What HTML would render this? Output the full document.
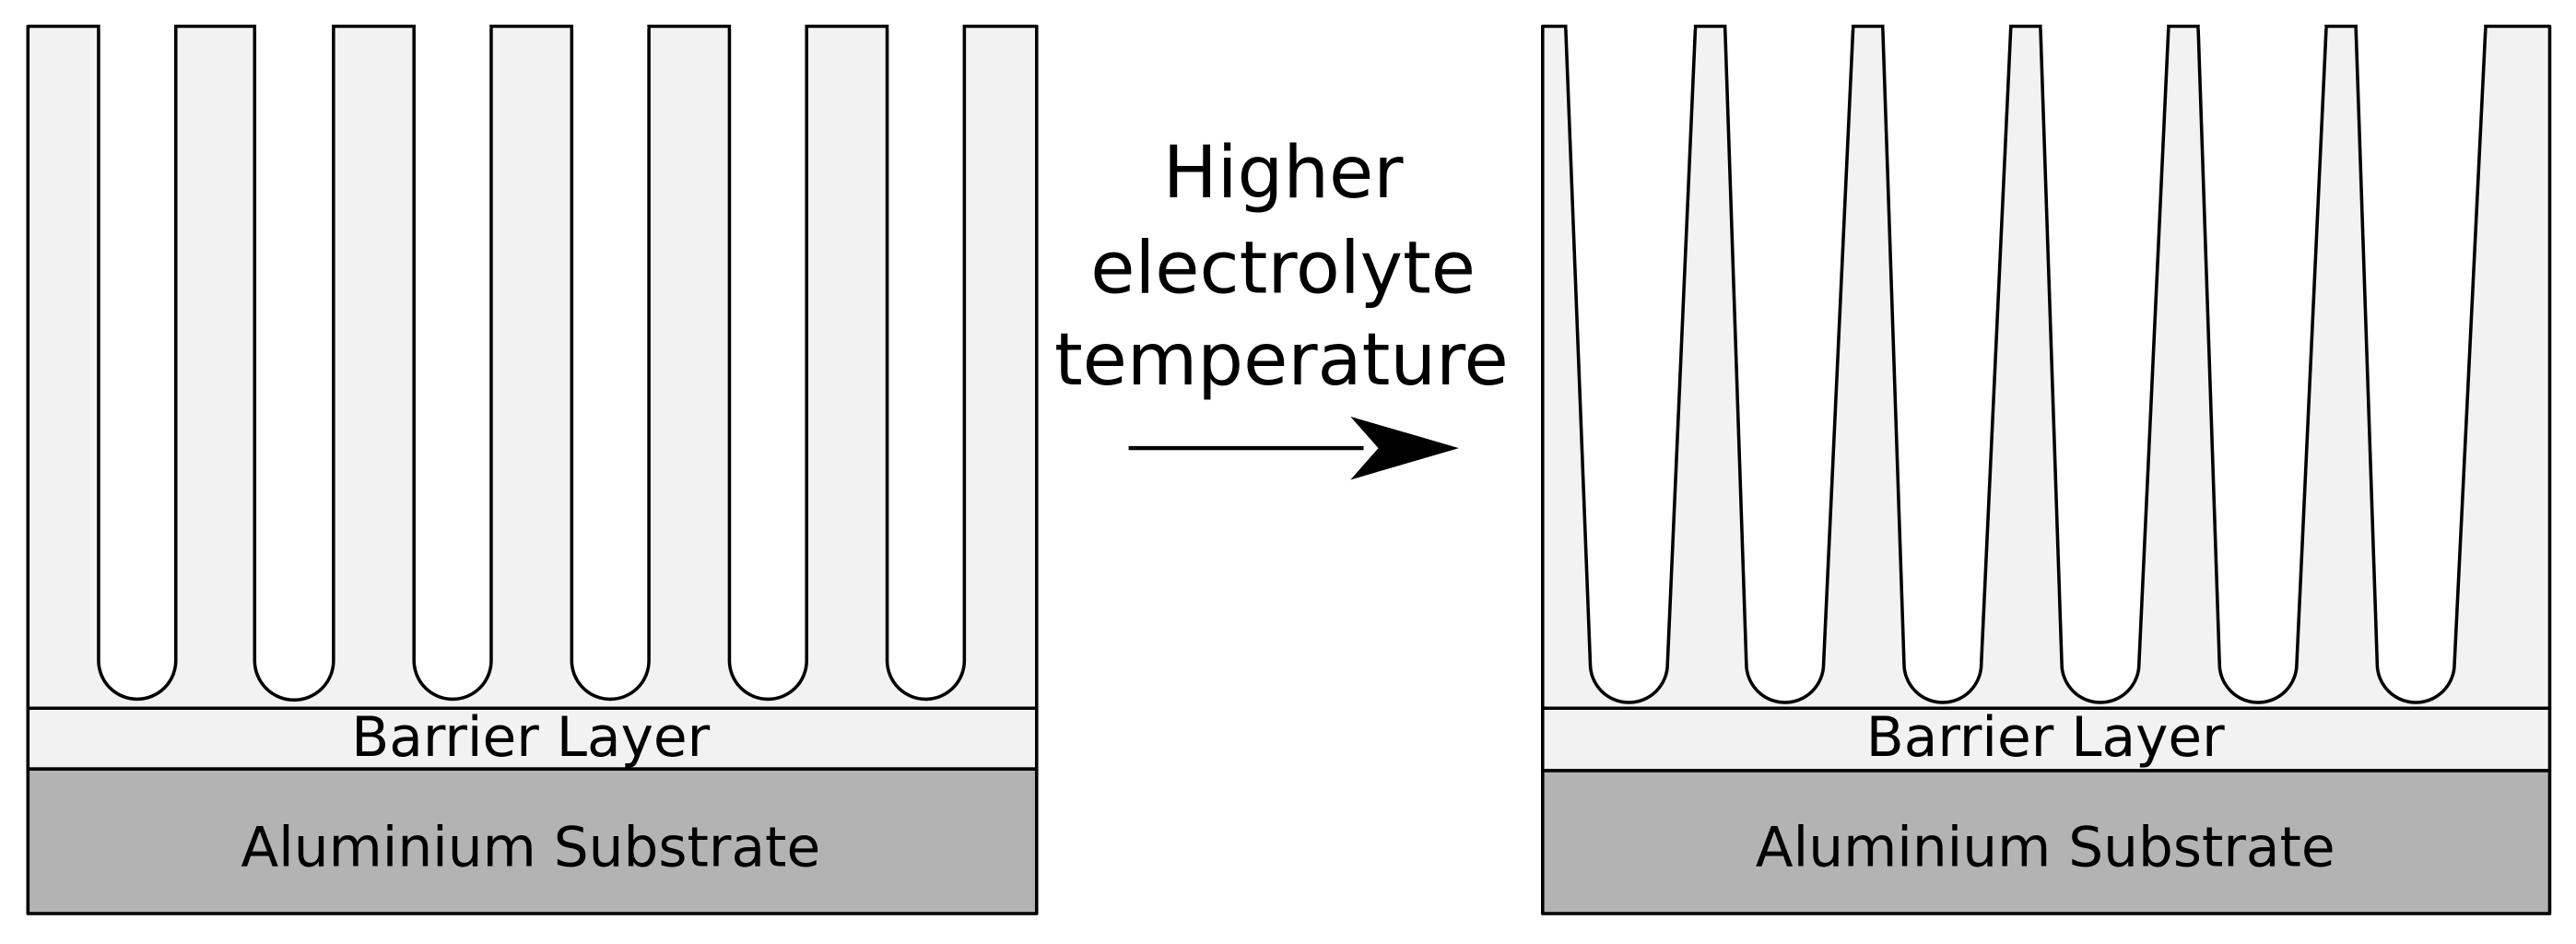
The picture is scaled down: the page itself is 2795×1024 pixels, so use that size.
<!DOCTYPE html>
<html><head><style>
html,body{margin:0;padding:0;background:#fff;}
svg{display:block;}
text{font-family:"DejaVu Sans","Liberation Sans",sans-serif;fill:#000;}
</style></head><body>
<svg width="2795" height="1024" viewBox="0 0 1568 574.5" preserveAspectRatio="none" xmlns="http://www.w3.org/2000/svg">
<g stroke="#000" stroke-width="2" stroke-linejoin="round">
<!-- LEFT -->
<rect x="17" y="16" width="614" height="415" fill="#f2f2f2"/>
<rect x="17" y="431" width="614" height="37" fill="#f2f2f2"/>
<rect x="17" y="468" width="614" height="88" fill="#b3b3b3"/>
<g fill="#fff">
<path d="M60,16 L60,402 A23.5,23.5 0 0 0 107,402 L107,16"/>
<path d="M155,16 L155,402 A24,24 0 0 0 203,402 L203,16"/>
<path d="M252,16 L252,402 A23.5,23.5 0 0 0 299,402 L299,16"/>
<path d="M348,16 L348,402 A23.5,23.5 0 0 0 395,402 L395,16"/>
<path d="M444,16 L444,402 A23.5,23.5 0 0 0 491,402 L491,16"/>
<path d="M540,16 L540,402 A23.5,23.5 0 0 0 587,402 L587,16"/>
</g>
<!-- RIGHT -->
<rect x="939" y="16" width="613" height="415" fill="#f2f2f2"/>
<rect x="939" y="431" width="613" height="38" fill="#f2f2f2"/>
<rect x="939" y="469" width="613" height="87" fill="#b3b3b3"/>
<g fill="#fff">
<path d="M953,16 L968,404 A23.5,23.5 0 0 0 1015,404 L1032,16"/>
<path d="M1050,16 L1063,404 A23.5,23.5 0 0 0 1110,404 L1128,16"/>
<path d="M1146,16 L1159,404 A23.5,23.5 0 0 0 1206,404 L1224,16"/>
<path d="M1242,16 L1255,404 A23.5,23.5 0 0 0 1302,404 L1320,16"/>
<path d="M1338,16 L1351,404 A23.5,23.5 0 0 0 1398,404 L1416,16"/>
<path d="M1434,16 L1447,404 A23.5,23.5 0 0 0 1494,404 L1513,16"/>
</g>
</g>
<g fill="#fff">
<rect x="61" y="13" width="45" height="5"/><rect x="156" y="13" width="46" height="5"/>
<rect x="253" y="13" width="45" height="5"/><rect x="349" y="13" width="45" height="5"/>
<rect x="445" y="13" width="45" height="5"/><rect x="541" y="13" width="45" height="5"/>
<rect x="954" y="13" width="77" height="5"/><rect x="1051" y="13" width="76" height="5"/>
<rect x="1147" y="13" width="76" height="5"/><rect x="1243" y="13" width="76" height="5"/>
<rect x="1339" y="13" width="76" height="5"/><rect x="1435" y="13" width="77" height="5"/>
</g>
<g text-anchor="middle">
<text x="323" y="460" font-size="33.5">Barrier Layer</text>
<text x="323" y="527" font-size="33.5">Aluminium Substrate</text>
<text x="1245" y="460" font-size="33.5">Barrier Layer</text>
<text x="1245" y="527" font-size="33.5">Aluminium Substrate</text>
<text x="781" y="120" font-size="44">Higher</text>
<text x="781" y="178" font-size="44">electrolyte</text>
<text x="780" y="234" font-size="44">temperature</text>
</g>
<line x1="687" y1="272.7" x2="830" y2="272.7" stroke="#000" stroke-width="2.5"/>
<polygon points="822,253.5 888,272.7 822,292 839,272.7" fill="#000"/>
</svg>
</body></html>
